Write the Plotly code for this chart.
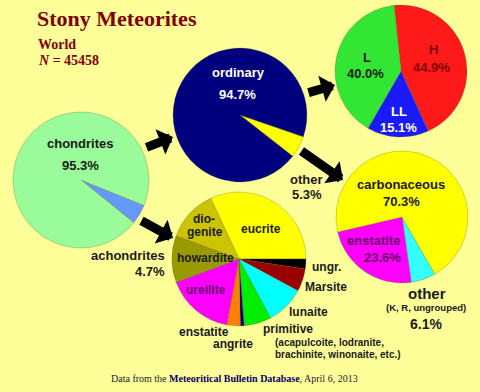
import plotly.graph_objects as go

W, H = 480, 392

# ---- data ----
top_labels = ["achondrites", "chondrites"]
top_values = [4.7, 95.3]
top_colors = ["#6699FF", "#99FB99"]

chond_labels = ["other", "ordinary"]
chond_values = [5.3, 94.7]
chond_colors = ["#FFFF00", "#00007F"]

ord_labels = ["H", "LL", "L"]
ord_values = [44.9, 15.1, 40.0]
ord_colors = ["#FF1A1A", "#1A1AFF", "#33E633"]

other_labels = ["other", "enstatite", "carbonaceous"]
other_values = [6.1, 23.6, 70.3]
other_colors = ["#33FFFF", "#FF00FF", "#FFFF00"]

achon_labels = ["eucrite", "ungr.", "Marsite", "lunaite", "primitive", "angrite",
                "enstatite", "ureilite", "howardite", "diogenite"]
achon_values = [31.9, 2.4, 5.5, 9.3, 6.6, 0.9, 3.25, 16.4, 11.3, 12.4]
achon_colors = ["#FFFF00", "#000000", "#990000", "#00FFFF", "#00EE00", "#000080",
                "#FF8000", "#FF00FF", "#999900", "#CCC400"]


def dom(cx, cy, r):
    return dict(x=[(cx - r) / W, (cx + r) / W], y=[1 - (cy + r) / H, 1 - (cy - r) / H])


def pie(labels, values, colors, cx, cy, r, rot):
    return go.Pie(labels=labels, values=values, sort=False, direction="clockwise",
                  rotation=rot, textinfo="none", showlegend=False,
                  marker=dict(colors=colors, line=dict(color="rgba(90,90,40,0.35)", width=0.8)),
                  domain=dom(cx, cy, r))


fig = go.Figure()
fig.add_trace(pie(top_labels, top_values, top_colors, 81, 180, 68, 112))
fig.add_trace(pie(chond_labels, chond_values, chond_colors, 240, 115, 67, 109))
fig.add_trace(pie(ord_labels, ord_values, ord_colors, 401, 71, 66, -6))
fig.add_trace(pie(other_labels, other_values, other_colors, 402, 217, 66, 150))
fig.add_trace(pie(achon_labels, achon_values, achon_colors, 239, 259, 67, 335))

SANS = "Liberation Sans, Arial, sans-serif"
SERIF = "Liberation Serif, Times New Roman, serif"
DARK = "#1A1A1A"

ann = []


def txt(s, x, y, size=13, color=DARK, family=SANS, xanchor="center", bold=True):
    ann.append(dict(text=("<b>%s</b>" % s) if bold else s, x=x / W, y=1 - y / H,
                    xref="paper", yref="paper", xanchor=xanchor, yanchor="middle",
                    showarrow=False, font=dict(size=size, color=color, family=family)))


# title
txt("Stony Meteorites", 35, 19, size=22, color="#800000", family=SERIF, xanchor="left")
txt("World", 36, 45, size=14, color="#800000", family=SERIF, xanchor="left")
txt("<i>N</i> = 45458", 36, 60, size=14, color="#800000", family=SERIF, xanchor="left")

# top pie
txt("chondrites", 80, 143)
txt("95.3%", 80, 165)
txt("achondrites", 128, 256)
txt("4.7%", 150, 271)

# chondrite split
txt("ordinary", 238, 72, color="white")
txt("94.7%", 237, 95, color="white")
txt("other", 306, 179)
txt("5.3%", 307, 194)

# ordinary
txt("L", 367, 57)
txt("40.0%", 365, 73)
txt("H", 433, 50, color="#800000")
txt("44.9%", 431, 67, color="#800000")
txt("LL", 399, 111, color="white")
txt("15.1%", 398, 128, color="white")

# other chondrites
txt(other_labels[2], 401, 185)
txt("70.3%", 401, 202)
txt(other_labels[1], 373, 240, color="#660066")
txt("23.6%", 382, 257, color="#660066")
txt("other", 427, 293, size=15)
txt("(K, R, ungrouped)", 426, 307, size=9.5)
txt("6.1%", 426, 324, size=14)

# achondrites
txt("dio-", 204, 219, size=12)
txt("genite", 205, 232, size=12)
txt("eucrite", 261, 229, size=12)
txt("howardite", 205, 258, size=12)
txt("ureilite", 206, 290, size=12, color="#660066")
txt("enstatite", 204, 332, size=12)
txt("angrite", 233, 344, size=12)
txt("primitive", 288, 329, size=12)
txt("(acapulcoite, lodranite,", 273, 342, size=10, xanchor="left")
txt("brachinite, winonaite, etc.)", 273, 354, size=10, xanchor="left")
txt("lunaite", 308, 312, size=12)
txt("Marsite", 326, 287, size=12)
txt("ungr.", 326, 267, size=12)

# footer
ann.append(dict(text="Data from the <b><span style='color:#000066'>Meteoritical Bulletin Database</span></b>, April 6, 2013",
                x=234 / W, y=1 - 378 / H, xref="paper", yref="paper", xanchor="center",
                yanchor="middle", showarrow=False,
                font=dict(size=10, color="#1A1A33", family=SERIF)))

# arrows (tip, tail)
arrows = [((173, 137), (145, 148)), ((173, 238), (140, 220)),
          ((335, 85), (307, 93)), ((343, 180), (300, 150))]
for (tx, ty), (sx, sy) in arrows:
    ann.append(dict(text="", x=tx / W, y=1 - ty / H, xref="paper", yref="paper",
                    ax=sx - tx, ay=sy - ty, showarrow=True, arrowhead=1,
                    arrowwidth=9, arrowsize=0.5, arrowcolor="#000000", standoff=0))

fig.update_layout(width=W, height=H, margin=dict(l=0, r=0, t=0, b=0),
                  paper_bgcolor="#FFFF99", plot_bgcolor="#FFFF99",
                  annotations=ann)
fig.write_html("out.html", config={"displayModeBar": False},
               post_script="document.body.style.margin='0';document.body.style.background='#FFFF99';")
